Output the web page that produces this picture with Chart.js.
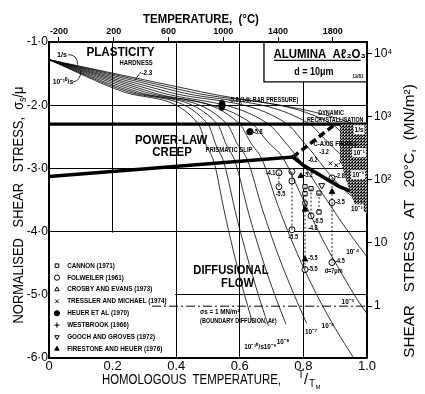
<!DOCTYPE html>
<html>
<head>
<meta charset="utf-8">
<script src="https://cdn.jsdelivr.net/npm/chart.js@4.4.0/dist/chart.umd.min.js"></script>
<style>
  html, body { margin:0; padding:0; background:#fff; }
</style>
</head>
<body>
<canvas id="myChart" width="425" height="394"></canvas>
<script>
// ---- data (x = T/TM, y = log10 of shear stress / modulus) ----
const T_M = 2323;                       // melting point of alumina, K
const tempC = [-200, 200, 600, 1000, 1400, 1800];
const stressLabels = ['10⁴', '10³', '10²', '10', '1'];
const stressLog = [4, 3, 2, 1, 0];
const logModulus = 5.18;                // log10 of shear modulus in MN/m²

const rateNames = ['1/s','10⁻¹','10⁻²','10⁻³','10⁻⁴','10⁻⁵','10⁻⁶','10⁻⁷','10⁻⁸','10⁻⁹','10⁻¹⁰/s'];
const rate0  = [[0,-1.28],[0.48,-1.79],[0.96,-2.3],[1.0,-2.41]];
const rate1  = [[0,-1.28],[0.445,-1.79],[0.89,-2.3],[0.93,-2.48],[0.97,-2.65],[1.0,-2.77]];
const rate2  = [[0,-1.28],[0.41,-1.79],[0.82,-2.3],[0.86,-2.5],[0.9,-2.7],[0.95,-2.92],[1.0,-3.12]];
const rate3  = [[0,-1.28],[0.375,-1.79],[0.75,-2.3],[0.79,-2.52],[0.83,-2.76],[0.87,-3.02],[0.92,-3.3],[0.96,-3.47],[1.0,-3.62]];
const rate4  = [[0,-1.28],[0.345,-1.79],[0.69,-2.3],[0.745,-2.6],[0.8,-2.95],[0.86,-3.4],[0.92,-3.85],[0.97,-4.2],[1.0,-4.4]];
const rate5  = [[0,-1.28],[0.32,-1.79],[0.64,-2.3],[0.688,-2.58],[0.735,-2.83],[0.8,-3.5],[0.86,-4.12],[0.92,-4.66],[0.97,-5.08],[1.0,-5.3]];
const rate6  = [[0,-1.28],[0.3,-1.79],[0.6,-2.3],[0.635,-2.6],[0.67,-2.86],[0.72,-3.59],[0.78,-4.34],[0.84,-4.98],[0.9,-5.53],[0.958,-6.0]];
const rate7  = [[0,-1.28],[0.28,-1.79],[0.56,-2.3],[0.592,-2.61],[0.625,-2.88],[0.67,-3.63],[0.72,-4.36],[0.77,-4.99],[0.81,-5.45]];
const rate8  = [[0,-1.28],[0.265,-1.79],[0.53,-2.3],[0.557,-2.62],[0.585,-2.89],[0.63,-3.75],[0.68,-4.57],[0.72,-5.14],[0.745,-5.46]];
const rate9  = [[0,-1.28],[0.25,-1.79],[0.5,-2.3],[0.525,-2.63],[0.55,-2.91],[0.59,-3.77],[0.63,-4.52],[0.67,-5.19],[0.69,-5.49]];
const rate10 = [[0,-1.28],[0.235,-1.79],[0.47,-2.3],[0.495,-2.64],[0.52,-2.92],[0.55,-3.65],[0.58,-4.31],[0.61,-4.91],[0.64,-5.44]];
const rates = [rate0, rate1, rate2, rate3, rate4, rate5, rate6, rate7, rate8, rate9, rate10];

// field boundaries
const plasticityEdge = [[0,-2.3],[1,-2.3]];
const creepEdge = [[0,-3.13],[0.767,-2.82],[0.8,-2.95],[0.91,-3.28],[1,-3.47]];
const recrystEdge = [[0.767,-2.82],[0.9,-2.3]];
const shadeTop = [[0.915,-2.3],[1,-2.3]];
const shadeBottom = [[0.915,-2.85],[0.935,-3.2],[0.96,-3.55],[1,-3.72]];
const oneMN = [[0.324,-5.18],[1,-5.18]];

// experiments
const studies = ['CANNON (1971)','FOLWEILER (1961)','CROSBY AND EVANS (1973)','TRESSLER AND MICHAEL (1974)',
                 'HEUER ET AL (1970)','WESTBROOK (1966)','GOOCH AND GROVES (1972)','FIRESTONE AND HEUER (1976)'];
const cannon = [[0.805,-3.29],[0.805,-3.4],[0.805,-3.55],[0.824,-3.32],[0.849,-3.39],[0.849,-3.69]];
const folweiler = [[0.723,-3.07],[0.723,-3.29],[0.764,-3.05],[0.764,-3.2],[0.764,-3.97],[0.89,-3.15],[0.89,-3.54],[0.89,-4.49],[0.805,-4.6],[0.824,-3.75]];
const tressler = [[0.885,-2.92],[0.903,-2.95],[0.918,-2.9]];
const heuer = [[0.544,-2.0],[0.632,-2.42]];
const gooch = [[0.858,-3.27]];
const firestone = [[0.792,-3.12],[0.805,-3.65],[0.805,-4.44],[0.89,-3.37]];
const tieLines = [[0.723,-3.07,-3.29],[0.764,-3.05,-3.97],[0.805,-3.29,-4.6],[0.824,-3.32,-3.75],[0.849,-3.39,-3.69],[0.89,-3.15,-4.49]];
const pointNotes = [
  ['-4.1',0.712,-3.07,'right'],['-5.5',0.728,-3.41,'center'],['-5.5',0.768,-4.09,'center'],
  ['-5.2',0.8,-3.1,'left'],['-6.5',0.832,-3.84,'left'],['-4.8',0.815,-3.95,'left'],
  ['-5.5',0.815,-4.42,'left'],['-5.5',0.815,-4.6,'left'],['-2.8',0.9,-3.13,'left'],
  ['-3.5',0.9,-3.54,'left'],['-4.5',0.9,-4.47,'left'],['d=7μm',0.895,-4.62,'center'],
  ['-3.2',0.85,-2.74,'left'],['-6.2',0.815,-2.87,'left'],['-5.8',0.642,-2.42,'left'],
  ['-5.8 (14k BAR PRESSURE)',0.566,-1.916,'left']
];

// ---------------------------------------------------------------
Chart.defaults.font.family = "'Liberation Sans', Arial, sans-serif";
Chart.defaults.color = '#000';
const pts = a => a.map(p => ({x:p[0], y:p[1]}));

// stipple for the recrystallisation field
const pc = document.createElement('canvas'); pc.width = 3; pc.height = 3;
const pctx = pc.getContext('2d');
pctx.fillStyle = '#8a8a8a'; pctx.fillRect(0,0,3,3);
pctx.fillStyle = '#111';
pctx.fillRect(0,0,1,1); pctx.fillRect(2,1,1,1); pctx.fillRect(1,2,1,1); pctx.fillRect(1,0,1,1);
pctx.fillStyle = '#ddd'; pctx.fillRect(2,2,1,1);
const stipple = pctx.createPattern(pc, 'repeat');

const blob = document.createElement('canvas'); blob.width = 8; blob.height = 12;
const bctx = blob.getContext('2d');
bctx.fillStyle = '#000'; bctx.beginPath(); bctx.ellipse(4,6,3.5,5.5,0,0,Math.PI*2); bctx.fill();

let datasets = [];
datasets.push({data:pts(shadeTop), showLine:true, borderWidth:0, pointRadius:0, backgroundColor:stipple, fill:'+1'});
datasets.push({data:pts(shadeBottom), showLine:true, borderWidth:0, pointRadius:0, fill:false});
rates.forEach(r => datasets.push({data:pts(r), showLine:true, borderColor:'#000', borderWidth:0.8,
  pointRadius:0, cubicInterpolationMode:'monotone', fill:false}));
datasets.push({data:pts(plasticityEdge), showLine:true, borderColor:'#000', borderWidth:3.2, pointRadius:0});
datasets.push({data:pts(creepEdge), showLine:true, borderColor:'#000', borderWidth:3.5, pointRadius:0});
datasets.push({data:pts(recrystEdge), showLine:true, borderColor:'#000', borderWidth:3.5, borderDash:[7,4], pointRadius:0});
datasets.push({data:pts(oneMN), showLine:true, borderColor:'#000', borderWidth:1, borderDash:[9,3,2,3], pointRadius:0});
tieLines.forEach(t => datasets.push({data:[{x:t[0],y:t[1]},{x:t[0],y:t[2]}], showLine:true,
  borderColor:'#000', borderWidth:0.9, borderDash:[2,2], pointRadius:0}));
datasets.push({data:pts(cannon), pointStyle:'rect', pointRadius:3, borderColor:'#000', backgroundColor:'#fff', borderWidth:1});
datasets.push({data:pts(folweiler), pointStyle:'circle', pointRadius:3, borderColor:'#000', backgroundColor:'#fff', borderWidth:1});
datasets.push({data:pts(tressler), pointStyle:'crossRot', pointRadius:2.5, borderColor:'#000', borderWidth:1});
datasets.push({data:pts(heuer), pointStyle:[blob,'circle'], pointRadius:[6,3.2], borderColor:'#000', backgroundColor:'#000', borderWidth:1});
datasets.push({data:pts(gooch), pointStyle:'triangle', rotation:180, pointRadius:3.5, borderColor:'#000', backgroundColor:'#fff', borderWidth:1});
datasets.push({data:pts(firestone), pointStyle:'triangle', pointRadius:3.2, borderColor:'#000', backgroundColor:'#000', borderWidth:1});

function txt(ctx, s, x, y, font, align, sx, rot) {
  ctx.save();
  ctx.font = font;
  ctx.textAlign = align || 'center';
  ctx.textBaseline = 'middle';
  ctx.translate(x, y);
  if (rot) ctx.rotate(rot);
  ctx.scale(sx || 1, 1);
  ctx.fillText(s, 0, 0);
  ctx.restore();
}

const annotate = {
  id: 'annotate',
  beforeDatasetsDraw(chart) {
    const ctx = chart.ctx, a = chart.chartArea, xs = chart.scales.x, ys = chart.scales.y;
    ctx.save();
    ctx.fillStyle = '#fff';
    const bx = xs.getPixelForValue(0.676), by = ys.getPixelForValue(-1.632);
    ctx.fillRect(bx, a.top + 1, a.right - bx - 1, by - a.top - 1);
    const lx = xs.getPixelForValue(0.4), ly = ys.getPixelForValue(-4);
    ctx.fillRect(a.left + 1, ly + 1, lx - a.left - 2, a.bottom - ly - 2);
    ctx.strokeStyle = '#000'; ctx.lineWidth = 1.3;
    ctx.beginPath(); ctx.moveTo(bx, a.top); ctx.lineTo(bx, by); ctx.lineTo(a.right, by); ctx.stroke();
    ctx.restore();
  },
  afterDatasetsDraw(chart) {
    const ctx = chart.ctx, xs = chart.scales.x, ys = chart.scales.y;
    const X = v => xs.getPixelForValue(v), Y = v => ys.getPixelForValue(v);
    const F = "'Liberation Sans', Arial, sans-serif";
    ctx.save();
    ctx.fillStyle = '#000'; ctx.strokeStyle = '#000';

    // field names
    txt(ctx, 'PLASTICITY', X(0.225), Y(-1.166), 'bold 13px ' + F, 'center', 0.9);
    txt(ctx, 'POWER-LAW', X(0.384), Y(-2.564), 'bold 13px ' + F, 'center', 0.88);
    txt(ctx, 'CREEP', X(0.387), Y(-2.754), 'bold 13px ' + F, 'center', 0.88);
    txt(ctx, 'DIFFUSIONAL', X(0.572), Y(-4.62), 'bold 13px ' + F, 'center', 0.86);
    txt(ctx, 'FLOW', X(0.593), Y(-4.823), 'bold 13px ' + F, 'center', 0.86);

    // small notes
    const sm = 'bold 7px ' + F;
    txt(ctx, 'HARDNESS', X(0.274), Y(-1.33), sm, 'center', 0.85);
    txt(ctx, '-2.3', X(0.308), Y(-1.49), sm, 'center', 0.9);
    ctx.lineWidth = 0.8;
    ctx.beginPath(); ctx.moveTo(X(0.29), Y(-1.47)); ctx.lineTo(X(0.27), Y(-1.6)); ctx.stroke();
    txt(ctx, '1/s', X(0.041), Y(-1.205), 'bold 8px ' + F, 'center', 0.9);
    txt(ctx, '10⁻¹⁰/s', X(0.044), Y(-1.63), 'bold 8px ' + F, 'center', 0.85);
    ctx.beginPath(); ctx.moveTo(X(0.06), Y(-1.2)); ctx.quadraticCurveTo(X(0.09), Y(-1.2), X(0.09), Y(-1.36)); ctx.stroke();
    ctx.beginPath(); ctx.moveTo(X(0.075), Y(-1.63)); ctx.quadraticCurveTo(X(0.1), Y(-1.62), X(0.1), Y(-1.45)); ctx.stroke();
    txt(ctx, 'PRISMATIC SLIP', X(0.566), Y(-2.706), sm, 'center', 0.85);
    txt(ctx, 'DYNAMIC', X(0.887), Y(-2.12), 'bold 6.5px ' + F, 'center', 0.85);
    txt(ctx, 'RECRYSTALLISATION', X(0.9), Y(-2.235), 'bold 6.5px ' + F, 'center', 0.82);
    txt(ctx, 'C-AXIS FIBRES', X(0.9), Y(-2.61), sm, 'center', 0.85);
    txt(ctx, 'σs = 1 MN/m²', X(0.475), Y(-5.27), sm, 'left', 0.9);
    txt(ctx, '(BOUNDARY DIFFUSION, Aℓ)', X(0.475), Y(-5.41), 'bold 6.5px ' + F, 'left', 0.85);
    pointNotes.forEach(n => txt(ctx, n[0], X(n[1]), Y(n[2]), 'bold 6.5px ' + F, n[3], 0.85));

    // strain-rate labels
    const ratePos = [[0.975,-2.39],[0.975,-2.75],[0.972,-3.1],[0.968,-3.64],[0.955,-4.32],[0.94,-5.11],
                     [0.877,-5.49],[0.824,-5.58],[0.736,-5.74],[0.695,-5.82],[0.645,-5.82]];
    rateNames.forEach((s, i) => {
      const px = X(ratePos[i][0]), py = Y(ratePos[i][1]);
      ctx.font = 'bold 7.5px ' + F;
      const w = ctx.measureText(s).width * 0.85;
      if (i < 4) { ctx.fillStyle = '#fff'; ctx.fillRect(px - w/2 - 1, py - 4.5, w + 2, 9); ctx.fillStyle = '#000'; }
      txt(ctx, s, px, py, 'bold 7.5px ' + F, 'center', 0.85);
    });

    // material box
    txt(ctx, 'ALUMINA  Aℓ₂O₃', X(0.851), Y(-1.19), 'bold 13px ' + F, 'center', 0.88);
    ctx.lineWidth = 1.1;
    ctx.beginPath(); ctx.moveTo(X(0.708), Y(-1.29)); ctx.lineTo(X(0.98), Y(-1.29)); ctx.stroke();
    txt(ctx, 'd = 10μm', X(0.833), Y(-1.474), 'bold 10px ' + F, 'center', 0.9);
    txt(ctx, '11/81', X(0.972), Y(-1.553), 'bold 5px ' + F, 'center', 0.9);

    // legend inside the lower left box
    const legStyles = [
      {pointStyle:'rect', fill:'#fff'}, {pointStyle:'circle', fill:'#fff'}, {pointStyle:'triangle', fill:'#fff'},
      {pointStyle:'crossRot', fill:'#fff'}, {pointStyle:'circle', fill:'#000'}, {pointStyle:'cross', fill:'#fff'},
      {pointStyle:'triangle', fill:'#fff', rotation:180}, {pointStyle:'triangle', fill:'#000'}];
    studies.forEach((s, i) => {
      const py = Y(-4.54 - i * 0.188);
      const st = legStyles[i];
      ctx.fillStyle = st.fill; ctx.strokeStyle = '#000'; ctx.lineWidth = 1;
      Chart.helpers.drawPoint(ctx, {pointStyle:st.pointStyle, radius:2.6, rotation:st.rotation || 0, borderWidth:1}, X(0.025), py);
      ctx.fillStyle = '#000';
      txt(ctx, s, X(0.057), py, 'bold 7px ' + F, 'left', 0.9);
    });

    // axis titles
    txt(ctx, 'TEMPERATURE,  (°C)', 201, 20, 'bold 12px ' + F, 'center', 0.95);
    txt(ctx, 'HOMOLOGOUS  TEMPERATURE,', 102, 380, '15px ' + F, 'left', 0.76);
    txt(ctx, 'T', 301, 375, '10px ' + F, 'center', 1);
    txt(ctx, '/', 306, 380, '15px ' + F, 'center', 1);
    txt(ctx, 'T', 312, 384, '10px ' + F, 'center', 1);
    txt(ctx, 'M', 318, 387, '6px ' + F, 'center', 1);

    // left title, bottom to top
    ctx.save();
    ctx.translate(19, 205); ctx.rotate(-Math.PI/2);
    ctx.scale(0.86, 1);
    ctx.textBaseline = 'middle'; ctx.textAlign = 'left';
    const mainL = 'NORMALISED   SHEAR   STRESS,  ';
    ctx.font = '15px ' + F; const wMain = ctx.measureText(mainL).width, wSig = ctx.measureText('σ').width, wMu = ctx.measureText('/μ').width;
    ctx.font = '10px ' + F; const wS = ctx.measureText('s').width;
    let cx = -(wMain + wSig + wS + wMu) / 2;
    ctx.font = '15px ' + F; ctx.fillText(mainL, cx, 0); cx += wMain;
    ctx.fillText('σ', cx, 0); cx += wSig;
    ctx.font = '10px ' + F; ctx.fillText('s', cx, 4); cx += wS;
    ctx.font = '15px ' + F; ctx.fillText('/μ', cx, 0);
    ctx.restore();

    txt(ctx, 'SHEAR   STRESS   AT   20°C,  (MN/m²)', 410, 221, '15px ' + F, 'center', 1.02, -Math.PI/2);
    ctx.restore();
  }
};

new Chart(document.getElementById('myChart'), {
  type: 'scatter',
  data: {datasets},
  options: {
    responsive: false, animation: false, events: [],
    layout: {padding: 0},
    plugins: {legend: {display:false}, tooltip: {enabled:false}},
    scales: {
      x: {
        type:'linear', position:'bottom', min:0, max:1,
        ticks:{stepSize:0.2, font:{size:13}, padding:1, maxRotation:0,
               callback: v => v === 0 ? '0' : v.toFixed(1)},
        grid:{color:'#000', lineWidth:1, drawTicks:false},
        border:{color:'#000', width:1.5},
        afterFit: s => { s.height = 36; }
      },
      x2: {
        type:'linear', position:'top', min:0, max:1,
        afterBuildTicks: s => { s.ticks = tempC.map(c => ({value:(c + 273) / T_M})); },
        ticks:{font:{size:9, weight:'bold'}, padding:0, maxRotation:0, autoSkip:false,
               callback: (v, i) => String(tempC[i])},
        grid:{drawOnChartArea:false, color:'#000', tickLength:5},
        border:{color:'#000', width:1.5},
        afterFit: s => { s.height = 42; }
      },
      y: {
        type:'linear', position:'left', min:-6, max:-1,
        ticks:{stepSize:1, font:{size:12}, padding:1,
               callback: v => v.toFixed(1).replace('.', '·')},
        grid:{color:'#000', lineWidth:1, drawTicks:false},
        border:{color:'#000', width:1.5},
        afterFit: s => { s.width = 49; }
      },
      y2: {
        type:'linear', position:'right', min:-6, max:-1,
        afterBuildTicks: s => { s.ticks = stressLog.map(k => ({value:k - logModulus})); },
        ticks:{font:{size:12}, padding:2, autoSkip:false,
               callback: (v, i) => stressLabels[i]},
        grid:{drawOnChartArea:false, color:'#000', tickLength:5},
        border:{color:'#000', width:1.5},
        afterFit: s => { s.width = 58; }
      }
    }
  },
  plugins: [annotate]
});
</script>
</body>
</html>
